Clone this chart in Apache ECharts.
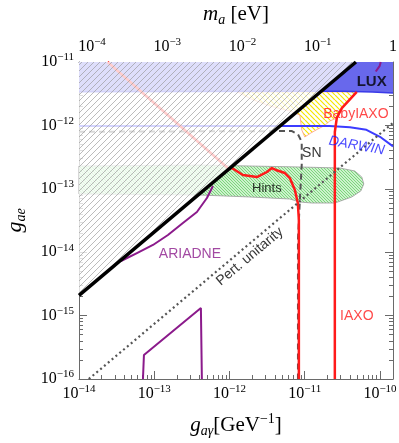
<!DOCTYPE html>
<html>
<head>
<meta charset="utf-8">
<script src="https://cdn.jsdelivr.net/npm/echarts@6/dist/echarts.min.js"></script>
<style>
html, body { margin: 0; padding: 0; background: #fff; }
#chart { width: 399px; height: 443px; }
</style>
</head>
<body>
<div id="chart"></div>
<script>
// every point is [log10 g_agamma, log10 g_ae]
const xMajor = [-14, -13, -12, -11, -10];
const yMajor = [-16, -15, -14, -13, -12, -11];
const topMajor = [-4, -3, -2, -1, 0];

const blackLine = [[-14, -14.68], [-10.32, -11]];
const hatchedRegion = [[-14, -14.68], [-10.32, -11], [-14, -11]];
const unitarityLine = [[-13.87, -16], [-9.827, -11.96]];

const luxBound = [[-14, -11.47], [-11, -11.46], [-10.5, -11.46], [-10.1, -11.475], [-9.827, -11.49]];

const darwinLine = [[-14, -12.01], [-10.67, -12.01], [-10.40, -12.03], [-10.18, -12.07], [-10.0, -12.18], [-9.827, -12.33]];

const snLine = [[-14, -12.10], [-11.33, -12.09], [-11.17, -12.09], [-11.09, -12.14], [-11.04, -12.26],
  [-11.04, -12.62], [-11.065, -13.18], [-11.09, -13.8], [-11.09, -16]];

const iaxoLine = [[-13.62, -11], [-12.008, -12.688], [-11.968, -12.672], [-11.822, -12.782], [-11.636, -12.814],
  [-11.503, -12.735], [-11.437, -12.672], [-11.384, -12.703], [-11.264, -12.751], [-11.198, -12.83],
  [-11.131, -13.019], [-11.092, -13.224], [-11.078, -13.49], [-11.078, -16]];

const babyIaxoLine = [[-10.308, -11.47], [-10.507, -11.726], [-10.574, -11.883], [-10.6, -12.104], [-10.6, -16]];

const babyIaxoRegion = [[-11.9, -11.47], [-10.308, -11.47], [-10.507, -11.726], [-10.574, -11.883],
  [-10.667, -11.931], [-10.746, -12.009], [-10.826, -12.057], [-10.919, -12.12], [-10.999, -12.183],
  [-11.039, -12.073], [-11.065, -11.836], [-11.198, -11.773], [-11.463, -11.694], [-11.72, -11.58]];

const hintsRegion = [[-14, -12.64], [-12.393, -12.625], [-11.065, -12.656], [-10.534, -12.672], [-10.335, -12.719],
  [-10.242, -12.814], [-10.215, -12.924], [-10.255, -13.035], [-10.375, -13.129], [-10.6, -13.224],
  [-10.906, -13.224], [-11.065, -13.208], [-11.198, -13.161], [-11.729, -13.129], [-12.393, -13.098], [-14, -13.082]];

const ariadneLine = [[-13.442, -14.139], [-13.23, -14.013], [-13.017, -13.886], [-12.818, -13.729],
  [-12.619, -13.539], [-12.433, -13.366], [-12.3, -13.145], [-12.22, -12.956]];
const ariadneLow = [[-13.15, -16], [-13.137, -15.621], [-12.38, -14.88], [-12.367, -16]];
const ariadneTop = [[-9.99, -11], [-10.003, -11.06], [-10.056, -11.15]];

const labelNames = ['LUX', 'BabyIAXO', 'DARWIN', 'SN', 'Hints', 'ARIADNE', 'IAXO', 'Pert. unitarity'];
const labelPos = [[-10.11, -11.31], [-10.32, -11.82], [-10.31, -12.32], [-10.906, -12.435],
  [-11.503, -13.0], [-12.526, -14.028], [-10.308, -15.006], [-11.73, -14.07]];

function hatch(bg, lineColor, size, dir, lw) {
  const c = document.createElement('canvas');
  c.width = size; c.height = size;
  const ctx = c.getContext('2d');
  if (bg) { ctx.fillStyle = bg; ctx.fillRect(0, 0, size, size); }
  ctx.strokeStyle = lineColor;
  ctx.lineWidth = lw;
  ctx.beginPath();
  for (let k = -1; k <= 1; k++) {
    if (dir > 0) { // "/"
      ctx.moveTo(k * size, size); ctx.lineTo(k * size + size, 0);
    } else { // "\"
      ctx.moveTo(k * size, 0); ctx.lineTo(k * size + size, size);
    }
  }
  ctx.stroke();
  return c;
}

function minorTicks(lo, hi) {
  const out = [];
  for (let n = Math.floor(lo) - 1; n <= Math.ceil(hi); n++) {
    for (let k = 2; k <= 9; k++) {
      const v = n + Math.log10(k);
      if (v > lo && v < hi) out.push(v);
    }
  }
  return out;
}

const X_MIN = -14, X_MAX = -9.827, Y_MIN = -16, Y_MAX = -11, TOP_MIN = -4.173, TOP_MAX = 0;
const axisGray = '#6a6a6a';
const serif = 'Liberation Serif';

const powRich = {
  b: { fontFamily: serif, fontSize: 16, color: '#000', lineHeight: 20 },
  s: { fontFamily: serif, fontSize: 11, color: '#000', verticalAlign: 'top', lineHeight: 10 }
};
function powLabel(v) {
  const n = Math.round(v);
  if (n === 0) return '{b|1}';
  return '{b|10}{s|' + (n < 0 ? '\u2212' + (-n) : n) + '}';
}

function majorAxis(pos, min, max, ticks, withLabels, extra) {
  return Object.assign({
    type: 'value', position: pos, min, max, scale: true,
    axisLine: { show: true, onZero: false, lineStyle: { color: axisGray, width: 1 } },
    axisTick: { show: true, inside: true, length: 8, customValues: ticks, lineStyle: { color: axisGray } },
    axisLabel: withLabels ? { show: true, customValues: ticks, formatter: powLabel, rich: powRich, margin: 5 } : { show: false },
    splitLine: { show: false }
  }, extra || {});
}
function minorAxis(pos, min, max) {
  return {
    type: 'value', position: pos, min, max, scale: true,
    axisLine: { show: false, onZero: false },
    axisTick: { show: true, inside: true, length: 4, customValues: minorTicks(min, max), lineStyle: { color: axisGray } },
    axisLabel: { show: false },
    splitLine: { show: false }
  };
}

function polygonSeries(points, fill, stroke, lineWidth, z) {
  return {
    type: 'custom', z, silent: true, animation: false,
    xAxisIndex: 0, yAxisIndex: 0,
    data: [[-12, -13]],
    renderItem: (params, api) => ({
      type: 'polygon',
      shape: { points: points.map(p => api.coord(p)) },
      style: { fill, stroke: stroke || 'none', lineWidth: lineWidth || 0 }
    })
  };
}
function lineSeries(data, color, width, dash, z) {
  return {
    type: 'line', data, z, symbol: 'none', silent: true, animation: false,
    xAxisIndex: 0, yAxisIndex: 0,
    lineStyle: { color, width, type: dash || 'solid', cap: 'butt' }
  };
}

const labelStyles = [
  { color: '#000', fontSize: 15, fontWeight: 'bold' },
  { color: '#ff1a1a', fontSize: 14 },
  { color: '#1a1aff', fontSize: 14, fontStyle: 'italic', rotate: -10 },
  { color: '#000', fontSize: 14 },
  { color: '#000', fontSize: 13 },
  { color: '#8b1a8b', fontSize: 14 },
  { color: '#ff1a1a', fontSize: 14 },
  { color: '#000', fontSize: 14, rotate: 40 }
];

const nameRich = {
  i: { fontFamily: serif, fontStyle: 'italic', fontSize: 21, color: '#000', lineHeight: 26 },
  sub: { fontFamily: serif, fontStyle: 'italic', fontSize: 14, color: '#000', verticalAlign: 'bottom', lineHeight: 14 },
  n: { fontFamily: serif, fontSize: 21, color: '#000', lineHeight: 26 },
  sup: { fontFamily: serif, fontSize: 14, color: '#000', verticalAlign: 'top', lineHeight: 14 }
};

const chart = echarts.init(document.getElementById('chart'), null, { renderer: 'canvas' });
const option = {
  backgroundColor: '#fff',
  animation: false,
  grid: { left: 79, top: 62, width: 314, height: 317, containLabel: false, outerBoundsMode: 'none' },
  xAxis: [
    majorAxis('bottom', X_MIN, X_MAX, xMajor, true, {
      name: '{i|g}{sub|a\u03b3}{n|[GeV}{sup|\u22121}{n|]}',
      nameLocation: 'middle', nameGap: 33,
      nameTextStyle: { rich: nameRich }
    }),
    minorAxis('bottom', X_MIN, X_MAX),
    majorAxis('top', TOP_MIN, TOP_MAX, topMajor, true, {
      name: '{i|m}{sub|a}{n| [eV]}',
      nameLocation: 'middle', nameGap: 35,
      nameTextStyle: { rich: nameRich }
    }),
    minorAxis('top', TOP_MIN, TOP_MAX)
  ],
  yAxis: [
    majorAxis('left', Y_MIN, Y_MAX, yMajor, true, {
      name: '{i|g}{sub|ae}',
      nameLocation: 'middle', nameGap: 51, nameRotate: 90,
      nameTextStyle: { rich: {
        i: { fontFamily: serif, fontStyle: 'italic', fontSize: 22, color: '#000', lineHeight: 26 },
        sub: { fontFamily: serif, fontStyle: 'italic', fontSize: 14, color: '#000', verticalAlign: 'bottom', lineHeight: 14 }
      } }
    }),
    minorAxis('left', Y_MIN, Y_MAX),
    majorAxis('right', Y_MIN, Y_MAX, yMajor, false),
    minorAxis('right', Y_MIN, Y_MAX)
  ],
  series: [
    polygonSeries([[X_MIN, Y_MAX], [X_MAX, Y_MAX]].concat(luxBound.slice().reverse()), 'rgb(104,104,236)', null, 0, 1),
    lineSeries(luxBound, '#3a3ae8', 1.5, null, 3),
    polygonSeries(hintsRegion, { image: hatch('rgba(200,240,200,0.9)', 'rgba(90,205,90,0.9)', 3, -1, 0.8), repeat: 'repeat' }, '#9a9a9a', 0.8, 2),
    polygonSeries(babyIaxoRegion, { image: hatch(null, '#f5e600', 5, -1, 1.2), repeat: 'repeat' }, '#ff9a80', 0.8, 2),
    lineSeries(darwinLine, '#3c3cff', 2, null, 3),
    lineSeries(snLine, '#555', 2, [6, 4], 3),
    lineSeries(iaxoLine, '#ff1a1a', 2.5, null, 3),
    lineSeries(babyIaxoLine, '#ff1a1a', 2.5, null, 3),
    polygonSeries(hatchedRegion, { image: hatch('rgba(255,255,255,0.78)', 'rgba(150,150,150,0.8)', 6, 1, 0.8), repeat: 'repeat' }, null, 0, 4),
    lineSeries(unitarityLine, '#555', 2.2, [2, 3], 5),
    lineSeries(ariadneLine, '#8b1a8b', 2, null, 5),
    lineSeries(ariadneLow, '#8b1a8b', 2, null, 5),
    lineSeries(ariadneTop, '#8b1a8b', 2, null, 5),
    lineSeries(blackLine, '#000', 3.5, null, 6),
    {
      type: 'scatter', z: 7, silent: true, animation: false, symbolSize: 0,
      xAxisIndex: 0, yAxisIndex: 0,
      data: labelNames.map((name, i) => ({
        value: labelPos[i],
        label: Object.assign({ show: true, position: 'inside', formatter: name, fontFamily: 'Liberation Sans' }, labelStyles[i])
      }))
    }
  ]
};
chart.setOption(option);
</script>
</body>
</html>
